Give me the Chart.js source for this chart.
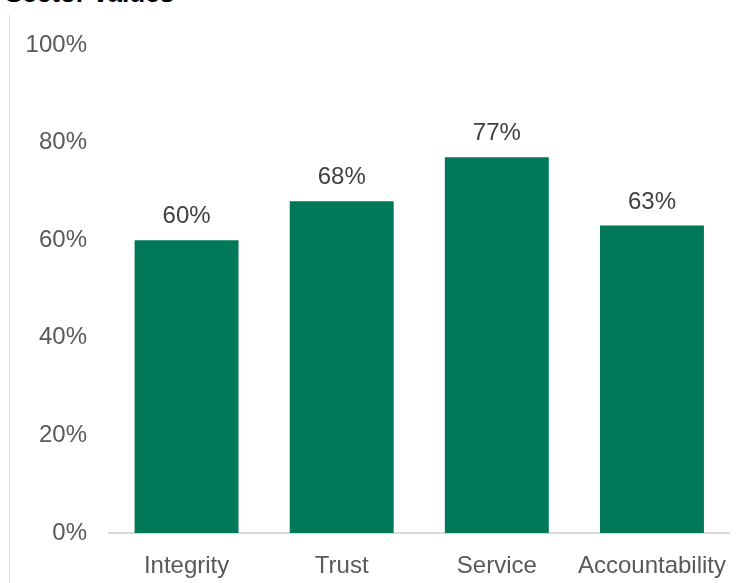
<!DOCTYPE html>
<html>
<head>
<meta charset="utf-8">
<script src="https://cdn.jsdelivr.net/npm/chart.js@4"></script>
<style>
html,body{margin:0;padding:0;background:#fff;overflow:hidden;}
#wrap{position:relative;width:747px;height:583px;}
#title{position:absolute;left:5px;top:-20px;font:bold 26px "Liberation Sans",Arial,sans-serif;line-height:26px;color:#000;white-space:nowrap;}
#rule{position:absolute;left:9px;top:15px;bottom:0;border-left:1px solid #d9d9d9;}
canvas{position:absolute;left:0;top:0;}
</style>
</head>
<body>
<div id="wrap">
<div id="title">Sector values</div>
<div id="rule"></div>
<canvas id="chartValues" width="747" height="583"></canvas>
</div>
<script>
const categories = ["Integrity", "Trust", "Service", "Accountability"];
const values = [60, 68, 77, 63];
const yTicks = [0, 20, 40, 60, 80, 100];

const FONT = '"Liberation Sans", Arial, sans-serif';

/* value labels above each bar */
const barLabels = {
id: "barLabels",
afterDatasetsDraw(chart){
const ctx = chart.ctx;
const meta = chart.getDatasetMeta(0);
ctx.save();
ctx.font = "24px " + FONT;
ctx.fillStyle = "#404040";
ctx.textAlign = "center";
ctx.textBaseline = "alphabetic";
meta.data.forEach((bar,i)=>{
ctx.fillText(values[i] + "%", bar.x, bar.y - 17);
});
ctx.restore();
}
};

new Chart(document.getElementById("chartValues"),{
type:"bar",
data:{
labels:categories,
datasets:[{
data:values,
backgroundColor:"#00785A",
borderWidth:0,
categoryPercentage:1,
barPercentage:0.67
}]
},
options:{
responsive:false,
animation:false,
layout:{padding:{top:45,right:16,left:0,bottom:0}},
plugins:{legend:{display:false},tooltip:{enabled:false}},
scales:{
x:{
grid:{display:false,drawTicks:false},
border:{display:true,color:"#d9d9d9",width:2},
ticks:{font:{family:FONT,size:24},color:"#595959",padding:19},
afterFit(s){ s.height = 50; }
},
y:{
min:0,max:100,
afterBuildTicks(s){ s.ticks = yTicks.map(v=>({value:v})); },
grid:{display:false,drawTicks:false},
border:{display:false},
ticks:{font:{family:FONT,size:24},color:"#595959",padding:22,callback:v=>v+"%"},
afterFit(s){ s.width = 109; }
}
}
},
plugins:[barLabels]
});
</script>
</body>
</html>
